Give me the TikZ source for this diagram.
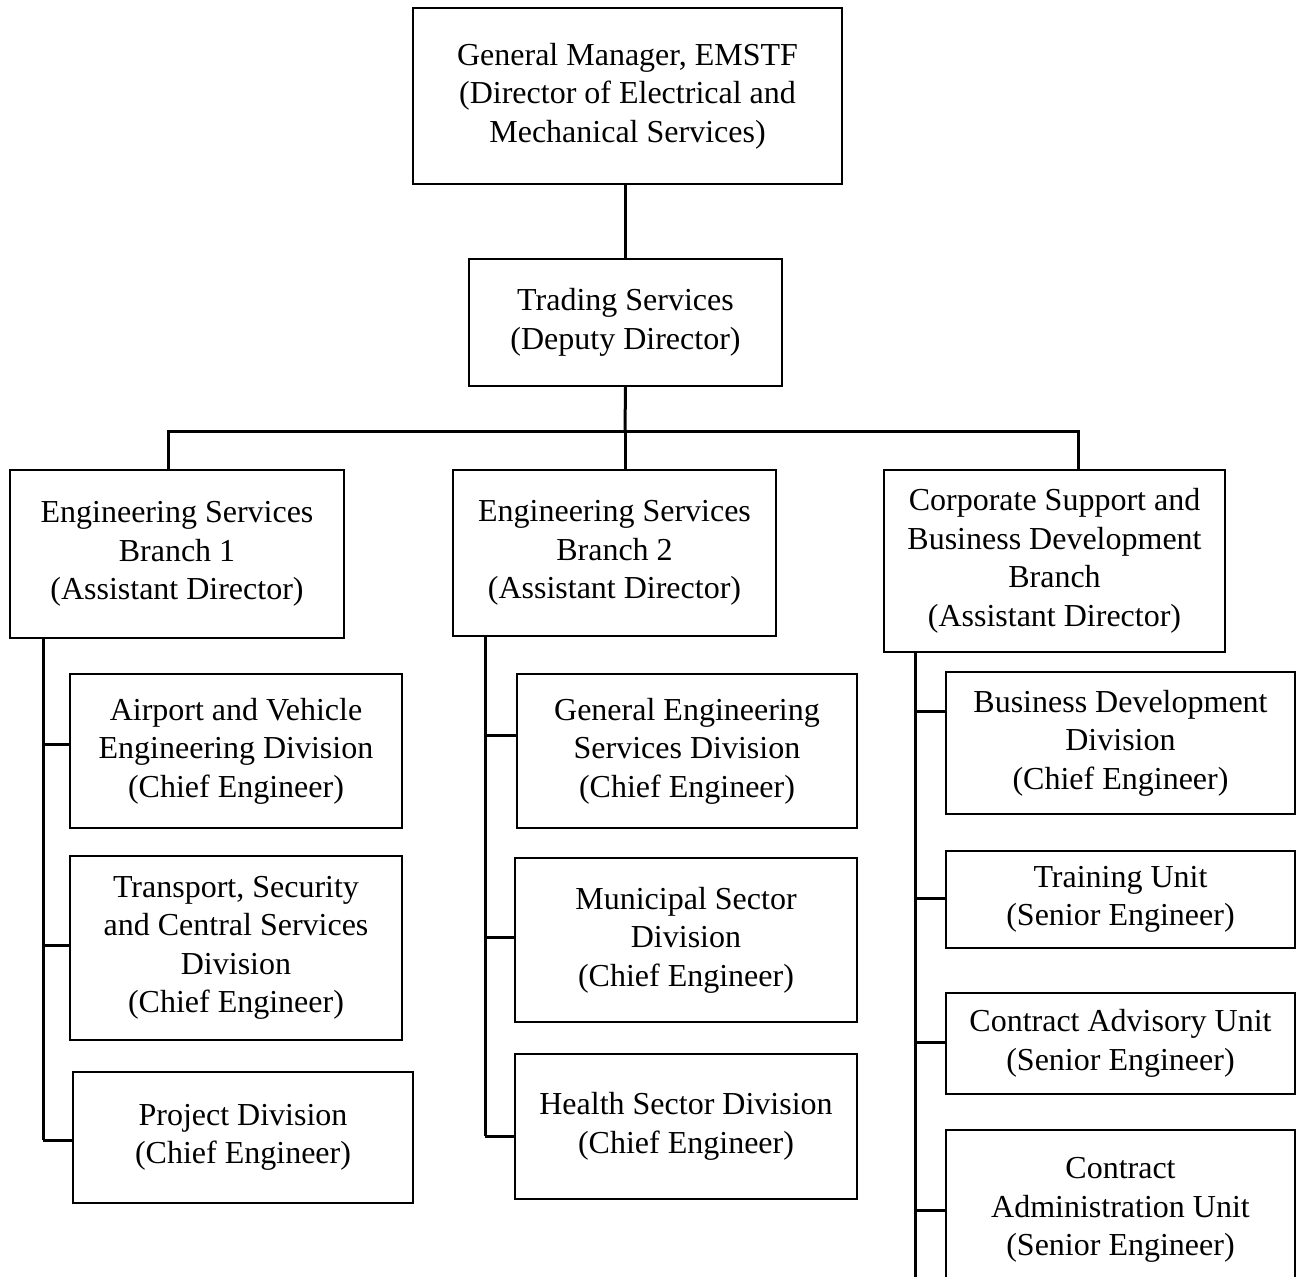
\documentclass[tikz,border=0pt]{standalone}
\usepackage{fontspec}
\setmainfont{Liberation Serif}
\usetikzlibrary{positioning}

\begin{document}
\begin{tikzpicture}[x=0.5pt,y=-0.5pt,
    post/.style={draw,line width=1pt,align=center,inner sep=0pt},
    link/.style={line width=1.5pt},
    font=\fontsize{16}{19.25}\selectfont]
                    \useasboundingbox (0,0) rectangle (1297,1276);

                    \node[post,minimum width=214.5pt,minimum height=88pt] (gm) at (627.5,96)
                        {General Manager, EMSTF\\(Director of Electrical and\\Mechanical Services)};
                    \node[post,minimum width=156.5pt,minimum height=63.5pt] (trade) at (625.5,322.5)
                        {Trading Services\\(Deputy Director)};

                    \node[post,minimum width=167pt,minimum height=84pt] (esb1) at (177,554)
                        {Engineering Services\\Branch 1\\(Assistant Director)};
                    \node[post,minimum width=161.5pt,minimum height=83pt] (esb2) at (614.5,553)
                        {Engineering Services\\Branch 2\\(Assistant Director)};
                    \node[post,minimum width=170.5pt,minimum height=91pt] (csbd) at (1054.5,561)
                        {Corporate Support and\\Business Development\\Branch\\(Assistant Director)};

                    \node[post,minimum width=166pt,minimum height=77pt] (aved) at (236,751)
                        {Airport and Vehicle\\Engineering Division\\(Chief Engineer)};
                    \node[post,minimum width=166pt,minimum height=92pt] (tscs) at (236,948)
                        {Transport, Security\\and Central Services\\Division\\(Chief Engineer)};
                    \node[post,minimum width=170pt,minimum height=65.5pt] (proj) at (243,1137.5)
                        {Project Division\\(Chief Engineer)};

                    \node[post,minimum width=170pt,minimum height=77pt] (gesd) at (687,751)
                        {General Engineering\\Services Division\\(Chief Engineer)};
                    \node[post,minimum width=171pt,minimum height=82pt] (msd) at (686,940)
                        {Municipal Sector\\Division\\(Chief Engineer)};
                    \node[post,minimum width=171pt,minimum height=72.5pt] (hsd) at (686,1126.5)
                        {Health Sector Division\\(Chief Engineer)};

                    \node[post,minimum width=174.5pt,minimum height=71pt] (bdd) at (1120.5,743)
                        {Business Development\\Division\\(Chief Engineer)};
                    \node[post,minimum width=174.5pt,minimum height=48.5pt] (tu) at (1120.5,899.5)
                        {Training Unit\\(Senior Engineer)};
                    \node[post,minimum width=174.5pt,minimum height=50.5pt] (cau) at (1120.5,1043.5)
                        {Contract Advisory Unit\\(Senior Engineer)};
                    \node[post,minimum width=174.5pt,minimum height=80pt] (cadm) at (1120.5,1210)
                        {Contract\\Administration Unit\\(Senior Engineer)};

                    \draw[link] (trade.north |- gm.south) -- (trade.north);
                    \coordinate (bus) at (625,431);
                    \draw[link] (trade.south) -- (bus);
                    \draw[link] ([xshift=-4.5pt]esb1.north) |- (bus) -| ([xshift=11.75pt]csbd.north);
                    \draw[link] (bus) -- (bus |- esb2.north);

                    \coordinate (sp1) at ([xshift=17pt]esb1.south west);
                    \coordinate (sp2) at ([xshift=16.5pt]esb2.south west);
                    \coordinate (sp3) at ([xshift=16pt]csbd.south west);

                    \foreach \n/\s in {aved/3.5pt,tscs/1.5pt,proj/-1.25pt}
                        \coordinate (\n-tip) at ([yshift=\s]\n.west);
                    \foreach \n/\s in {gesd/8pt,msd/1.5pt,hsd/-4.75pt}
                        \coordinate (\n-tip) at ([yshift=\s]\n.west);
                    \foreach \n/\s in {bdd/16pt,tu/0.75pt,cau/0.75pt,cadm/0pt}
                        \coordinate (\n-tip) at ([yshift=\s]\n.west);

                    \draw[link] (sp1) -- (sp1 |- proj-tip);
                    \draw[link] (sp2) -- (sp2 |- hsd-tip);
                    \draw[link] (sp3) -- (sp3 |- cadm.south);

                    \foreach \n in {aved,tscs,proj}
                        \draw[link] (\n-tip) -- (\n-tip -| sp1);
                    \foreach \n in {gesd,msd,hsd}
                        \draw[link] (\n-tip) -- (\n-tip -| sp2);
                    \foreach \n in {bdd,tu,cau,cadm}
                        \draw[link] (\n-tip) -- (\n-tip -| sp3);
                \end{tikzpicture}
\end{document}
